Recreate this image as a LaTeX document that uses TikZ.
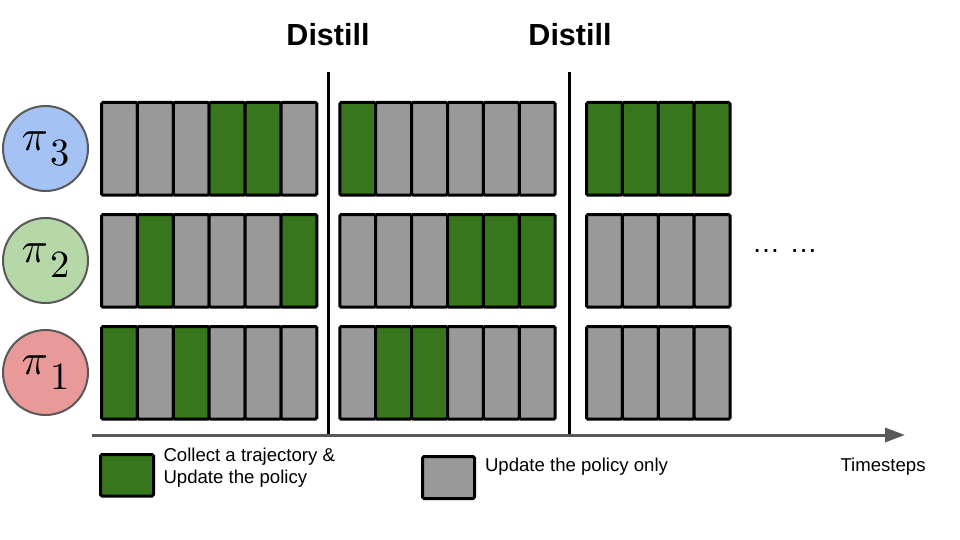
\documentclass[tikz,border=0pt]{standalone}
\usepackage{graphicx}
\usepackage{fontspec}
\setmainfont{Liberation Sans}
\usetikzlibrary{arrows.meta}
\definecolor{gcell}{HTML}{38761D}
\definecolor{ycell}{HTML}{999999}
\definecolor{pblue}{HTML}{A4C2F4}
\definecolor{pgreen}{HTML}{B6D7A8}
\definecolor{pred}{HTML}{EA9999}
\definecolor{edgegrey}{HTML}{595959}
\tikzset{
  cellbox/.style={draw=black, line width=3pt, rounded corners=1.5pt, minimum width=35.9pt,
    minimum height=92.7pt, inner sep=0pt, outer sep=0pt, anchor=north west},
  G/.style={cellbox, fill=gcell},
  Y/.style={cellbox, fill=ycell},
  policy/.style={circle, draw=edgegrey, line width=2pt, minimum size=85pt, inner sep=0pt},
  distill/.style={font=\bfseries\fontsize{30.5}{30.5}\selectfont},
  vline/.style={draw=black, line width=3pt},
  axis/.style={draw=edgegrey, line width=3pt, -{Triangle[length=20pt,width=14pt]}},
  legendbox/.style={draw=black, line width=3pt, rounded corners=1.5pt, inner sep=0pt, outer sep=0pt,
    minimum width=53pt, minimum height=41.5pt, anchor=north west},
  lbl/.style={font=\fontsize{18.6}{22}\selectfont, inner sep=0pt, outer sep=0pt}
}
\newcommand{\pilabel}[1]{\scalebox{4.35}{$\pi$}\kern2pt\raisebox{-15pt}{\scalebox{3.85}{$#1$}}}
\begin{document}
\begin{tikzpicture}[x=1pt, y=-1pt]
\useasboundingbox (0,0) rectangle (960,540);
% policy circles
\node[policy, fill=pblue]  (p3) at (45.5,148.5) {\pilabel{3}};
\node[policy, fill=pgreen] (p2) at (45.5,260.5) {\pilabel{2}};
\node[policy, fill=pred]   (p1) at (45.5,372.5) {\pilabel{1}};
% cells: rows (top y), groups (start x)
\foreach \r/\yy/\pa/\pb/\pc in {
   3/102.5/{Y,Y,Y,G,G,Y}/{G,Y,Y,Y,Y,Y}/{G,G,G,G},
   2/214.5/{Y,G,Y,Y,Y,G}/{Y,Y,Y,G,G,G}/{Y,Y,Y,Y},
   1/326.5/{G,Y,G,Y,Y,Y}/{Y,G,G,Y,Y,Y}/{Y,Y,Y,Y}}{
  \foreach \s [count=\i from 0] in \pa {
    \node[\s] (c\r-a-\i) at (101.5+35.9*\i, \yy) {};
  }
  \foreach \s [count=\i from 0] in \pb {
    \node[\s] (c\r-b-\i) at (339.8+35.9*\i, \yy) {};
  }
  \foreach \s [count=\i from 0] in \pc {
    \node[\s] (c\r-c-\i) at (586.5+35.9*\i, \yy) {};
  }
}
% distill separators
\node[distill] (d1) at (328,35) {Distill};
\node[distill] (d2) at (570,35) {Distill};
\coordinate (v1a) at (328,72);
\coordinate (v1b) at (328,437);
\coordinate (v2a) at (569,72);
\coordinate (v2b) at (569,437);
\draw[vline] (v1a) -- (v1b);
\draw[vline] (v2a) -- (v2b);
% time axis
\coordinate (t0) at (92,435);
\coordinate (t1) at (905,435);
\draw[axis] (t0) -- (t1);
\node[lbl, anchor=base west] (ts) at (840.5,471.5) {Timesteps};
% continuation dots
\node[anchor=base west, inner sep=0pt, font=\fontsize{28}{28}\selectfont] (dots) at (752,252) {…\hspace{0.34em}…};
% legend
\node[legendbox, fill=gcell] (lg) at (100.5,454.5) {};
\node[lbl, anchor=north west, align=left] (lgt) at (163.5,448.5) {Collect a trajectory \&\\Update the policy};
\node[legendbox, fill=ycell, minimum width=52pt, minimum height=42pt] (ly) at (422.5,456.5) {};
\node[lbl, anchor=base west] (lyt) at (485,471) {Update the policy only};
\end{tikzpicture}
\end{document}
